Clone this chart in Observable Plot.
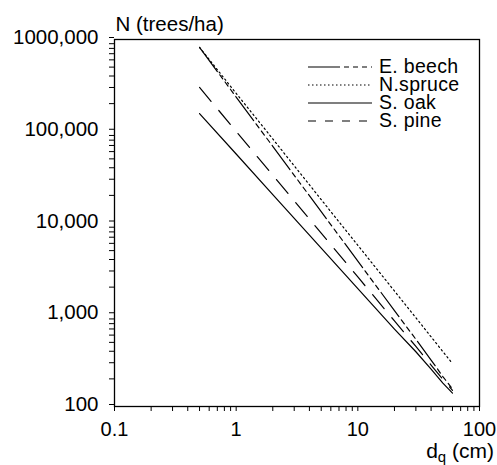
<!DOCTYPE html>
<html><head><meta charset="utf-8">
<script src="https://cdn.jsdelivr.net/npm/d3@7"></script>
<script src="https://cdn.jsdelivr.net/npm/@observablehq/plot@0.6"></script>
<style>body{margin:0;background:#fff;}</style>
</head><body><div id="chart"></div>
<script>
// Quadratic mean diameter (cm)
const dq = [0.5, 1, 2, 5, 10, 20, 30, 40, 50, 60];
// Stem numbers (trees/ha) per species
const beech  = [820000, 236000, 68400, 13300, 3840, 1110, 540, 321, 212, 155];
const spruce = [820000, 259000, 82400, 18000, 5710, 1815, 927, 575, 397, 294];
const oak    = [156000, 56500, 20400, 5330, 1930, 698, 395, 255, 180, 140];
const pine   = [300000, 99800, 33200, 7740, 2580, 857, 451, 283, 198, 150];
const species = ["E. beech", "N.spruce", "S. oak", "S. pine"];
const seriesValues = [beech, spruce, oak, pine];

const yTickValues = [100, 1000, 10000, 100000, 1000000];
const yTickLabels = ["100", "1,000", "10,000", "100,000", "1000,000"];
const xTickValues = [0.1, 1, 10, 100];
const xTickLabels = ["0.1", "1", "10", "100"];

const rows = [];
species.forEach((s, i) => dq.forEach((d, j) => rows.push({species: s, d, n: seriesValues[i][j]})));

const minorY = [];
for (let e = 2; e < 6; e++) for (let m = 2; m <= 9; m++) minorY.push(m * Math.pow(10, e));
const minorX = [];
for (let e = -1; e < 2; e++) for (let m = 2; m <= 9; m++) minorX.push(m * Math.pow(10, e));

const dashes = {"E. beech": "30,4,5,4,5,4,5,4", "N.spruce": "1.5,3", "S. oak": "none", "S. pine": "18,12"};
const legendDashes = {"E. beech": "32,4,5,4,5,4,5,4", "N.spruce": "1.5,2.5", "S. oak": "none", "S. pine": "8,9"};

const font = "Liberation Sans, Arial, Helvetica, sans-serif";

const chart = Plot.plot({
  width: 497,
  height: 465,
  marginLeft: 114,
  marginRight: 18,
  marginTop: 39,
  marginBottom: 59,
  style: {fontFamily: font, fontSize: "20px", color: "black", background: "white"},
  x: {type: "log", domain: [0.1, 100], axis: null},
  y: {type: "log", domain: [100, 1000000], axis: null},
  marks: [
    Plot.axisY(minorY, {tickSize: 5, tickFormat: () => "", label: null}),
    Plot.axisY(yTickValues, {tickSize: 5, tickPadding: 11, dy: -2, fontSize: 20.5,
      tickFormat: d => yTickLabels[yTickValues.indexOf(d)], label: null}),
    Plot.axisX(minorX, {tickSize: 5, tickFormat: () => "", label: null}),
    Plot.axisX(xTickValues, {tickSize: 5, tickPadding: 10, fontSize: 20,
      tickFormat: d => xTickLabels[xTickValues.indexOf(d)], label: null}),
    Plot.frame({stroke: "black", strokeWidth: 1.3}),
    ...species.map(s => Plot.line(rows.filter(r => r.species === s), {
      x: "d", y: "n", stroke: "black", strokeWidth: 1.2, strokeDasharray: dashes[s]
    })),
    Plot.text(["N (trees/ha)"], {frameAnchor: "top-left", textAnchor: "start", lineAnchor: "bottom",
      dx: 1, dy: -9, fontSize: 20.5})
  ]
});

document.getElementById("chart").appendChild(chart);

const svg = d3.select(chart);
// x-axis title with subscript
const xt = svg.append("text")
  .attr("x", 494).attr("y", 458)
  .attr("text-anchor", "end")
  .attr("font-family", font).attr("font-size", 21).attr("fill", "black");
xt.append("tspan").text("d");
xt.append("tspan").attr("font-size", 15).attr("dy", 4).text("q");
xt.append("tspan").attr("dy", -4).text(" (cm)");

// legend
const lg = svg.append("g");
const rowBase = [73, 91, 109, 127];
species.forEach((s, i) => {
  lg.append("line").attr("x1", 308).attr("x2", 372).attr("y1", rowBase[i] - 6).attr("y2", rowBase[i] - 6)
    .attr("stroke", "black").attr("stroke-width", 1.2)
    .attr("stroke-dasharray", legendDashes[s]);
  lg.append("text").attr("x", 379).attr("y", rowBase[i])
    .attr("text-anchor", "start")
    .attr("font-family", font).attr("font-size", 19.5).attr("letter-spacing", 0.3)
    .attr("fill", "black").text(s);
});
</script>
</body></html>
